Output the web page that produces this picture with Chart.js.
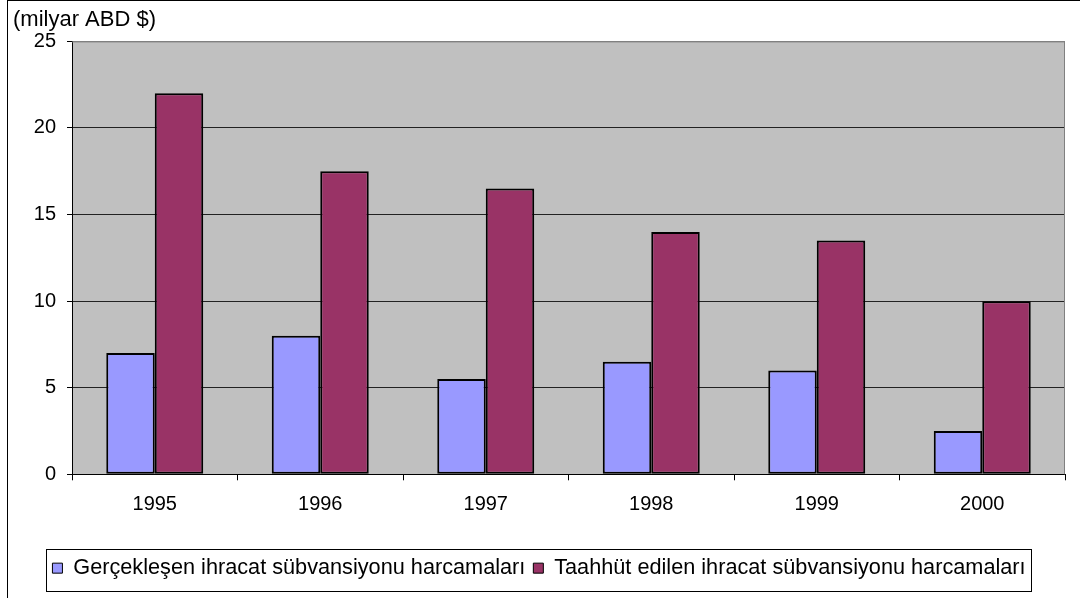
<!DOCTYPE html>
<html>
<head>
<meta charset="utf-8">
<script src="https://cdn.jsdelivr.net/npm/chart.js@4/dist/chart.umd.min.js"></script>
<style>
    html, body { margin: 0; padding: 0; background: #fff; }
    #wrap { width: 1080px; height: 598px; position: relative; }
</style>
</head>
<body>
<div id="wrap"><canvas id="chart"></canvas></div>
<script>
// Data
const years = ['1995', '1996', '1997', '1998', '1999', '2000'];
const realized = [7, 8, 5.5, 6.5, 6, 2.5];
const committed = [22, 17.5, 16.5, 14, 13.5, 10];
const seriesNames = [
    'Gerçekleşen ihracat sübvansiyonu harcamaları',
    'Taahhüt edilen ihracat sübvansiyonu harcamaları'
];
const unitLabel = '(milyar ABD $)';

const FONT = '"Liberation Sans", Arial, sans-serif';

// Gray plot background, outer frame and legend frame
const decor = {
    id: 'decor',
    beforeDraw(chart) {
        const { ctx, chartArea: a } = chart;
        ctx.save();
        ctx.fillStyle = '#c0c0c0';
        ctx.fillRect(a.left, a.top, a.right - a.left, a.bottom - a.top);
        ctx.strokeStyle = '#000';
        ctx.lineWidth = 1;
        ctx.strokeRect(7.5, 0.5, 1200, 800);
        ctx.restore();
    },
    afterDatasetsDraw(chart) {
        const { ctx, chartArea: a } = chart;
        ctx.save();
        ctx.strokeStyle = '#808080';
        ctx.lineWidth = 1;
        ctx.beginPath();
        ctx.moveTo(a.left, a.top + 0.5);
        ctx.lineTo(a.right - 0.5, a.top + 0.5);
        ctx.lineTo(a.right - 0.5, a.bottom);
        ctx.stroke();
        ctx.restore();
    },
    afterDraw(chart) {
        const lg = chart.legend;
        if (!lg || !lg.legendHitBoxes.length) return;
        const boxes = lg.legendHitBoxes;
        const x0 = Math.min(...boxes.map(b => b.left)) - 6;
        const x1 = Math.max(...boxes.map(b => b.left + b.width)) + 6;
        const ctx = chart.ctx;
        ctx.save();
        ctx.strokeStyle = '#000';
        ctx.lineWidth = 1;
        ctx.strokeRect(Math.round(x0) + 0.5, 549.5, Math.round(x1 - x0), 42);
        ctx.restore();
    }
};

new Chart(document.getElementById('chart'), {
    type: 'bar',
    data: {
        labels: years,
        datasets: [
            {
                label: seriesNames[0],
                data: realized,
                backgroundColor: '#9999ff',
                borderColor: '#000',
                borderWidth: 2,
                borderSkipped: false
            },
            {
                label: seriesNames[1],
                data: committed,
                backgroundColor: '#993366',
                borderColor: '#000',
                borderWidth: 2,
                borderSkipped: false
            }
        ]
    },
    options: {
        responsive: true,
        maintainAspectRatio: false,
        animation: false,
        layout: { padding: { left: 13, right: 15, top: 0, bottom: 9 } },
        datasets: { bar: { categoryPercentage: 0.586, barPercentage: 1 } },
        plugins: {
            title: {
                display: true,
                text: unitLabel,
                align: 'start',
                color: '#000',
                font: { family: FONT, size: 22, weight: 'normal', lineHeight: 1.2 },
                padding: { top: 7, bottom: 8 }
            },
            legend: {
                position: 'bottom',
                labels: {
                    color: '#000',
                    font: { family: FONT, size: 21.7 },
                    boxWidth: 10,
                    boxHeight: 10,
                    padding: 8,
                    generateLabels(chart) {
                        return chart.data.datasets.map((ds, i) => ({
                            text: ds.label,
                            fillStyle: ds.backgroundColor,
                            strokeStyle: '#000',
                            lineWidth: 1,
                            datasetIndex: i,
                            hidden: false
                        }));
                    }
                }
            },
            tooltip: { enabled: false }
        },
        scales: {
            x: {
                grid: {
                    offset: true,
                    drawOnChartArea: false,
                    drawTicks: true,
                    tickLength: 6,
                    color: '#000'
                },
                border: { color: '#000', width: 1 },
                ticks: {
                    color: '#000',
                    font: { family: FONT, size: 20 },
                    padding: 12,
                    maxRotation: 0
                },
                afterFit(scale) { scale.height = 75; }
            },
            y: {
                min: 0,
                max: 25,
                grid: {
                    color: ctx => ctx.tick && ctx.tick.value === 25 ? '#808080' : '#222',
                    tickLength: 5,
                    tickColor: '#000'
                },
                border: { color: '#000', width: 1 },
                ticks: {
                    stepSize: 5,
                    color: '#000',
                    font: { family: FONT, size: 20 },
                    padding: 11
                },
                afterFit(scale) { scale.width = 59; }
            }
        }
    },
    plugins: [decor]
});
</script>
</body>
</html>
